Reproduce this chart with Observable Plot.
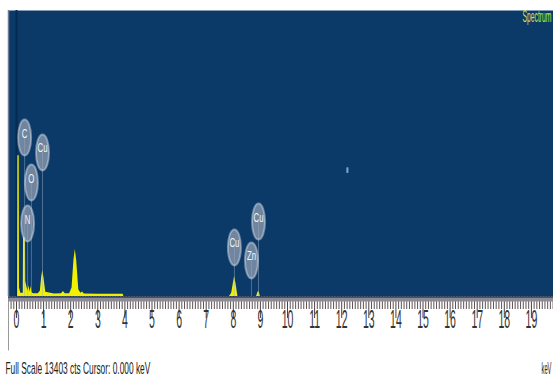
<!DOCTYPE html>
<html><head><meta charset="utf-8">
<script src="https://cdn.jsdelivr.net/npm/d3@7"></script>
<script src="https://cdn.jsdelivr.net/npm/@observablehq/plot@0.6"></script>
<style>
html,body{margin:0;padding:0;background:#fff;overflow:hidden;}
#chart{width:553px;height:391px;overflow:hidden;}
</style></head><body><div id="chart"></div>
<script>
// Spectrum (energy in keV, counts)
const energy = [0, 0.04, 0.05, 0.10, 0.11, 0.16, 0.25, 0.26, 0.33, 0.34, 0.39, 0.43, 0.46, 0.50, 0.54, 0.57, 0.62, 0.80, 0.88, 0.93, 0.97, 1.01, 1.08, 1.40, 1.66, 1.73, 1.80, 1.96, 2.05, 2.12, 2.17, 2.22, 2.30, 2.38, 2.44, 2.50, 3.00, 3.50, 3.94, 3.96, 7.86, 7.94, 8.00, 8.05, 8.10, 8.17, 8.86, 8.91, 8.95, 9.00, 19.8];
const counts = [0, 0, 6600, 6600, 400, 150, 150, 2760, 2760, 700, 420, 230, 520, 200, 470, 200, 130, 130, 250, 900, 1220, 900, 200, 120, 130, 230, 130, 130, 400, 1700, 2200, 1700, 300, 150, 210, 120, 110, 110, 110, 0, 0, 150, 600, 940, 600, 0, 0, 200, 230, 0, 0];

// Element markers
const labelText = ["C", "Cu", "O", "N", "Cu", "Zn", "Cu"];
const labelEnergy = [0.30, 0.96, 0.55, 0.41, 8.04, 8.67, 8.93];
const labelCounts = [7450, 6750, 5340, 3420, 2300, 1690, 3510];

// Cursor mark
const cursorEnergy = [12.21];
const cursorCounts = [5900];

const fullScale = 13403;
const xDomain = [-0.295, 19.815];
const majorTicks = d3.range(0, 20);
const minorTicks = d3.range(-2, 199).filter(i => i % 10 !== 0).map(i => i / 10);
const captionText = ["Full Scale 13403 cts Cursor: 0.000 keV"];
const titleText = ["Spectrum"];
const unitText = ["keV"];

const spectrum = energy.map((e, i) => ({e, c: counts[i]}));
const labels = labelText.map((t, i) => ({t, e: labelEnergy[i], c: labelCounts[i]}));
const cursor = cursorEnergy.map((e, i) => ({e, c: cursorCounts[i]}));

const ellipse = {
  draw(ctx) {
    const rx = 6.5, ry = 18, k = 0.5523;
    ctx.moveTo(0, -ry);
    ctx.bezierCurveTo(k * rx, -ry, rx, -k * ry, rx, 0);
    ctx.bezierCurveTo(rx, k * ry, k * rx, ry, 0, ry);
    ctx.bezierCurveTo(-k * rx, ry, -rx, k * ry, -rx, 0);
    ctx.bezierCurveTo(-rx, -k * ry, -k * rx, -ry, 0, -ry);
    ctx.closePath();
  }
};

const plot = Plot.plot({
  width: 553, height: 391,
  marginLeft: 8, marginRight: 0, marginTop: 10, marginBottom: 95,
  x: {domain: xDomain},
  y: {domain: [0, fullScale], axis: null},
  style: {background: "#fff", fontFamily: "Liberation Sans, Arial, sans-serif"},
  marks: [
    Plot.frame({fill: "#0b3a69", stroke: "none"}),
    Plot.axisX({ticks: minorTicks, tickSize: 13, tickFormat: () => "", stroke: "#5e5254", label: null}),
    Plot.axisX({ticks: majorTicks, tickSize: 22, tickPadding: 9, fontSize: 25, fill: "#333", stroke: "#4a4244", label: null, tickFormat: d => String(d)}),
    Plot.ruleX([xDomain[0]], {stroke: "#6b7c93", strokeWidth: 1.5}),
    Plot.ruleX([0], {stroke: "#062a50", strokeWidth: 2}),
    Plot.ruleX([xDomain[0]], {y1: -100, y2: -2550, stroke: "#999"}),
    Plot.areaY(spectrum, {x: "e", y: "c", fill: "#f0f000", curve: "linear"}),
    Plot.ruleY([0], {stroke: "#051c38", strokeWidth: 2, dy: 1}),
    Plot.ruleY([0], {stroke: "#8d8b96", strokeWidth: 4, dy: 3}),
    Plot.ruleX(cursor, {x: "e", y1: d => d.c - 130, y2: d => d.c + 130, stroke: "#7fa6d8", strokeWidth: 2}),
    Plot.ruleX(labels, {x: "e", y1: 0, y2: "c", stroke: "#9fb0c8", strokeOpacity: 0.45}),
    Plot.dot(labels, {x: "e", y: "c", symbol: ellipse, r: 6, fill: "#9aa5b8", fillOpacity: 0.7, stroke: "#dfe5ee", strokeOpacity: 0.45, strokeWidth: 2}),
    Plot.text(labels, {x: "e", y: "c", text: "t", fill: "#f4f6fa", fontSize: 13}),
    Plot.text(captionText, {text: d => d, frameAnchor: "bottom-left", dx: -3, dy: 77, textAnchor: "start", fontSize: 17, fill: "#222"}),
    Plot.text(unitText, {text: d => d, frameAnchor: "bottom-right", dx: -12, dy: 77, textAnchor: "start", fontSize: 17, fill: "#222"}),
    Plot.text(titleText, {text: d => d, frameAnchor: "top-right", dx: -31, dy: 11, textAnchor: "start", fontSize: 16, fill: "#cfe33c"})
  ]
});
document.getElementById("chart").append(plot);

d3.select(plot).selectAll("text").each(function() {
  const t = this.textContent;
  let s;
  if (t === "") return;
  if (t.startsWith("Full")) s = 145 / this.getComputedTextLength();
  else if (t === "Spectrum") s = 29 / this.getComputedTextLength();
  else if (t === "keV") s = 10 / this.getComputedTextLength();
  else if (/^\d+$/.test(t)) s = 0.42;
  else s = 0.6;
  const x = +this.getAttribute("x") || 0, y = +this.getAttribute("y") || 0;
  const tr = this.getAttribute("transform") || "";
  this.removeAttribute("x"); this.removeAttribute("y");
  this.setAttribute("transform", `${tr} translate(${x},${y}) scale(${s},1)`);
});
</script></body></html>
